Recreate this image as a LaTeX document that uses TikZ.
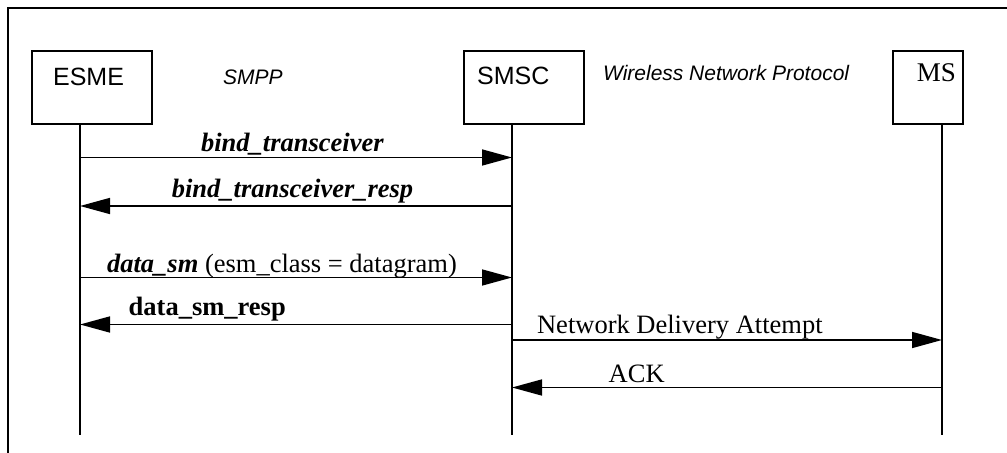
\documentclass[tikz,border=0pt]{standalone}
\usepackage{fontspec}
\setmainfont{Liberation Serif}
\setsansfont{Liberation Sans}
\usetikzlibrary{arrows.meta}

\tikzset{
  entity/.style={draw, line width=.8pt, minimum height=36.5pt, inner sep=0pt},
  entname/.style={font=\sffamily\fontsize{12.5}{14}\selectfont, inner sep=0pt, anchor=base west},
  proto/.style={font=\sffamily\itshape\fontsize{10.5}{12}\selectfont, inner sep=0pt, anchor=base west},
  msgtext/.style={font=\fontsize{13.25}{15}\selectfont, inner sep=0pt},
  life/.style={line width=.8pt},
  msg/.style={-{Triangle[length=15pt,width=8pt]}, line width=.8pt}}

\begin{document}
\begin{tikzpicture}[x=.5pt,y=-.5pt]
    \useasboundingbox (0,0) rectangle (1007,453);
    \draw[line width=.9pt] (1007,8) -- (8,8) -- (8,453);
    % entities
    \node[entity, minimum width=60pt] (esme) at (92,87.5) {};
    \node[entity, minimum width=60pt] (smsc) at (524,87.5) {};
    \node[entity, minimum width=35pt] (ms) at (928,87.5) {};
    \node[entname] (esmename) at (52.7,85.7) {ESME};
    \node[entname] (smscname) at (476.7,84.7) {SMSC};
    \node[entname, font=\fontsize{13.5}{15}\selectfont] (msname) at (916.5,82) {MS};
    \node[proto] (smpp) at (222.7,84.3) {SMPP};
    \node[proto] (wnp) at (602.7,81) {Wireless Network Protocol};
    % lifelines
    \coordinate (esmeend) at (80,435);
    \coordinate (smscend) at (512,435);
    \coordinate (msend) at (942,435);
    \draw[life] (esmeend |- esme.south) -- (esmeend);
    \draw[life] (smscend |- smsc.south) -- (smscend);
    \draw[life] (msend |- ms.south) -- (msend);
    % messages
    \coordinate (bind1) at (80,157.5);
    \coordinate (bind2) at (512,157.5);
    \draw[msg] (bind1) -- (bind2);
    \node[msgtext, anchor=base] (bindlbl) at (292.5,151.7) {\textbf{\textit{bind\_transceiver}}};
    \coordinate (bindr1) at (512,206);
    \coordinate (bindr2) at (80,206);
    \draw[msg] (bindr1) -- (bindr2);
    \node[msgtext, anchor=base] (bindrlbl) at (292.5,198) {\textbf{\textit{bind\_transceiver\_resp}}};
    \coordinate (data1) at (80,277.5);
    \coordinate (data2) at (512,277.5);
    \draw[msg] (data1) -- (data2);
    \node[msgtext, anchor=base west] (datalbl) at (106.7,272.5) {\textbf{\textit{data\_sm}} (esm\_class = datagram)};
    \coordinate (datar1) at (512,324.5);
    \coordinate (datar2) at (80,324.5);
    \draw[msg] (datar1) -- (datar2);
    \node[msgtext, anchor=base west] (datarlbl) at (128.3,316) {\textbf{data\_sm\_resp}};
    \coordinate (nda1) at (512,340);
    \coordinate (nda2) at (942,340);
    \draw[msg] (nda1) -- (nda2);
    \node[msgtext, anchor=base west] (ndalbl) at (536.7,333.5) {Network Delivery Attempt};
    \coordinate (ack1) at (942,387.5);
    \coordinate (ack2) at (512,387.5);
    \draw[msg] (ack1) -- (ack2);
    \node[msgtext, anchor=base west] (acklbl) at (608.3,382.5) {ACK};
\end{tikzpicture}
\end{document}
